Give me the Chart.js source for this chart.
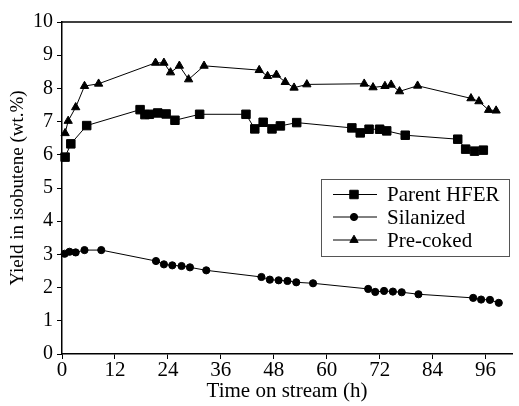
<!DOCTYPE html>
<html>
<head>
<meta charset="utf-8">
<script src="https://cdn.jsdelivr.net/npm/chart.js@4/dist/chart.umd.min.js"></script>
<style>
  html, body { margin: 0; padding: 0; background: #fff; }
  #wrap { width: 519px; height: 406px; }
</style>
</head>
<body>
<div id="wrap"><canvas id="yieldChart" width="519" height="406"></canvas></div>
<script>
// time on stream (h) and isobutene yield (wt.%) per catalyst
const parentHours = [0.7, 2.0, 5.6, 17.7, 18.8, 19.8, 21.7, 23.6, 25.6, 31.2, 41.7, 43.7, 45.6, 47.6, 49.5, 53.2, 65.7, 67.6, 69.6, 72.0, 73.6, 77.8, 89.7, 91.5, 93.5, 95.5];
const parentYield = [5.93, 6.33, 6.88, 7.36, 7.21, 7.22, 7.26, 7.23, 7.04, 7.22, 7.22, 6.78, 6.98, 6.78, 6.87, 6.97, 6.81, 6.66, 6.77, 6.77, 6.72, 6.59, 6.47, 6.17, 6.11, 6.14];

const silanHours = [0.6, 1.7, 3.1, 5.1, 8.9, 21.3, 23.1, 25.0, 27.1, 29.0, 32.7, 45.2, 47.1, 49.1, 51.1, 53.1, 56.9, 69.4, 71.0, 73.0, 75.0, 77.0, 80.8, 93.2, 95.0, 97.0, 99.0];
const silanYield = [3.02, 3.08, 3.06, 3.13, 3.13, 2.80, 2.70, 2.67, 2.65, 2.61, 2.52, 2.32, 2.24, 2.22, 2.20, 2.16, 2.13, 1.96, 1.87, 1.90, 1.88, 1.86, 1.80, 1.69, 1.64, 1.63, 1.54];

const cokedHours = [0.7, 1.4, 3.1, 5.1, 8.3, 21.2, 23.1, 24.6, 26.6, 28.7, 32.2, 44.7, 46.6, 48.6, 50.6, 52.6, 55.5, 68.5, 70.5, 73.2, 74.6, 76.5, 80.6, 92.7, 94.5, 96.7, 98.4];
const cokedYield = [6.65, 7.02, 7.43, 8.07, 8.14, 8.77, 8.77, 8.48, 8.68, 8.27, 8.68, 8.55, 8.37, 8.41, 8.19, 8.02, 8.12, 8.14, 8.03, 8.07, 8.11, 7.91, 8.08, 7.70, 7.61, 7.35, 7.33];

const seriesNames = ["Parent HFER", "Silanized", "Pre-coked"];

const xMax = 102;
const xStep = 12;
const yMax = 10;

const toPoints = (xs, ys) => xs.map((x, i) => ({ x, y: ys[i] }));

const serif = "'Liberation Serif', 'Times New Roman', serif";
Chart.defaults.font.family = serif;
Chart.defaults.font.size = 21;
Chart.defaults.color = "#000";

const series = (label, data, pointStyle, radius) => ({
  label,
  data,
  pointStyle,
  pointRadius: radius,
  pointHoverRadius: radius,
  pointBackgroundColor: "#000",
  pointBorderColor: "#000",
  pointBorderWidth: 1,
  borderColor: "#000",
  borderWidth: 1,
  showLine: true,
  fill: false,
  tension: 0,
  clip: false
});

// top frame line plus the boxed key with line + marker samples
const frameAndKey = {
  id: "frameAndKey",
  afterDatasetsDraw(chart) {
    const { ctx, chartArea: a } = chart;
    ctx.save();
    ctx.strokeStyle = "#000";
    ctx.lineWidth = 1.5;
    ctx.beginPath();
    ctx.moveTo(a.left, a.top);
    ctx.lineTo(a.right, a.top);
    ctx.stroke();

    const box = { x: 321.5, y: 179.5, w: 188, h: 77 };
    ctx.fillStyle = "#fff";
    ctx.fillRect(box.x, box.y, box.w, box.h);
    ctx.strokeStyle = "#555";
    ctx.lineWidth = 1;
    ctx.strokeRect(box.x, box.y, box.w, box.h);

    const rows = [194.5, 217, 240];
    ctx.font = "21px " + serif;
    ctx.textBaseline = "alphabetic";
    ctx.textAlign = "left";
    chart.data.datasets.forEach((ds, i) => {
      const y = rows[i];
      ctx.strokeStyle = "#000";
      ctx.lineWidth = 1;
      ctx.beginPath();
      ctx.moveTo(333, y);
      ctx.lineTo(377, y);
      ctx.stroke();
      ctx.fillStyle = "#000";
      Chart.helpers.drawPoint(ctx, {
        pointStyle: ds.pointStyle,
        radius: ds.pointRadius,
        rotation: 0,
        borderWidth: 1
      }, 354, y);
      ctx.fillStyle = "#000";
      ctx.fillText(ds.label, 387, y + 6.8);
    });
    ctx.restore();
  }
};

new Chart(document.getElementById("yieldChart"), {
  type: "scatter",
  data: {
    datasets: [
      series(seriesNames[0], toPoints(parentHours, parentYield), "rect", 6),
      series(seriesNames[1], toPoints(silanHours, silanYield), "circle", 3.6),
      series(seriesNames[2], toPoints(cokedHours, cokedYield), "triangle", 4.8)
    ]
  },
  options: {
    responsive: false,
    animation: false,
    layout: { padding: { top: 22, right: 0, bottom: 0, left: 0 } },
    plugins: {
      legend: { display: false },
      tooltip: { enabled: false }
    },
    scales: {
      x: {
        type: "linear",
        min: 0,
        max: xMax,
        afterFit: (s) => { s.height = 52; },
        grid: { drawOnChartArea: false, drawTicks: true, tickLength: 5, tickColor: "#000", tickWidth: 1 },
        border: { display: true, color: "#000", width: 1.5 },
        ticks: { stepSize: xStep, includeBounds: false, padding: 1, font: { size: 21, lineHeight: 1 } },
        title: { display: true, text: "Time on stream (h)", font: { size: 21, lineHeight: 1 }, padding: { top: 0, bottom: 4 } }
      },
      y: {
        min: 0,
        max: yMax,
        afterFit: (s) => { s.width = 62; },
        grid: { drawOnChartArea: false, drawTicks: true, tickLength: 5, tickColor: "#000", tickWidth: 1 },
        border: { display: true, color: "#000", width: 1.5 },
        ticks: { stepSize: 1, padding: 4, font: { size: 20, lineHeight: 1 } },
        title: { display: true, text: "Yield in isobutene (wt.%)", font: { size: 19, lineHeight: 1 }, padding: { top: 9, bottom: 0 } }
      }
    }
  },
  plugins: [frameAndKey]
});
</script>
</body>
</html>
